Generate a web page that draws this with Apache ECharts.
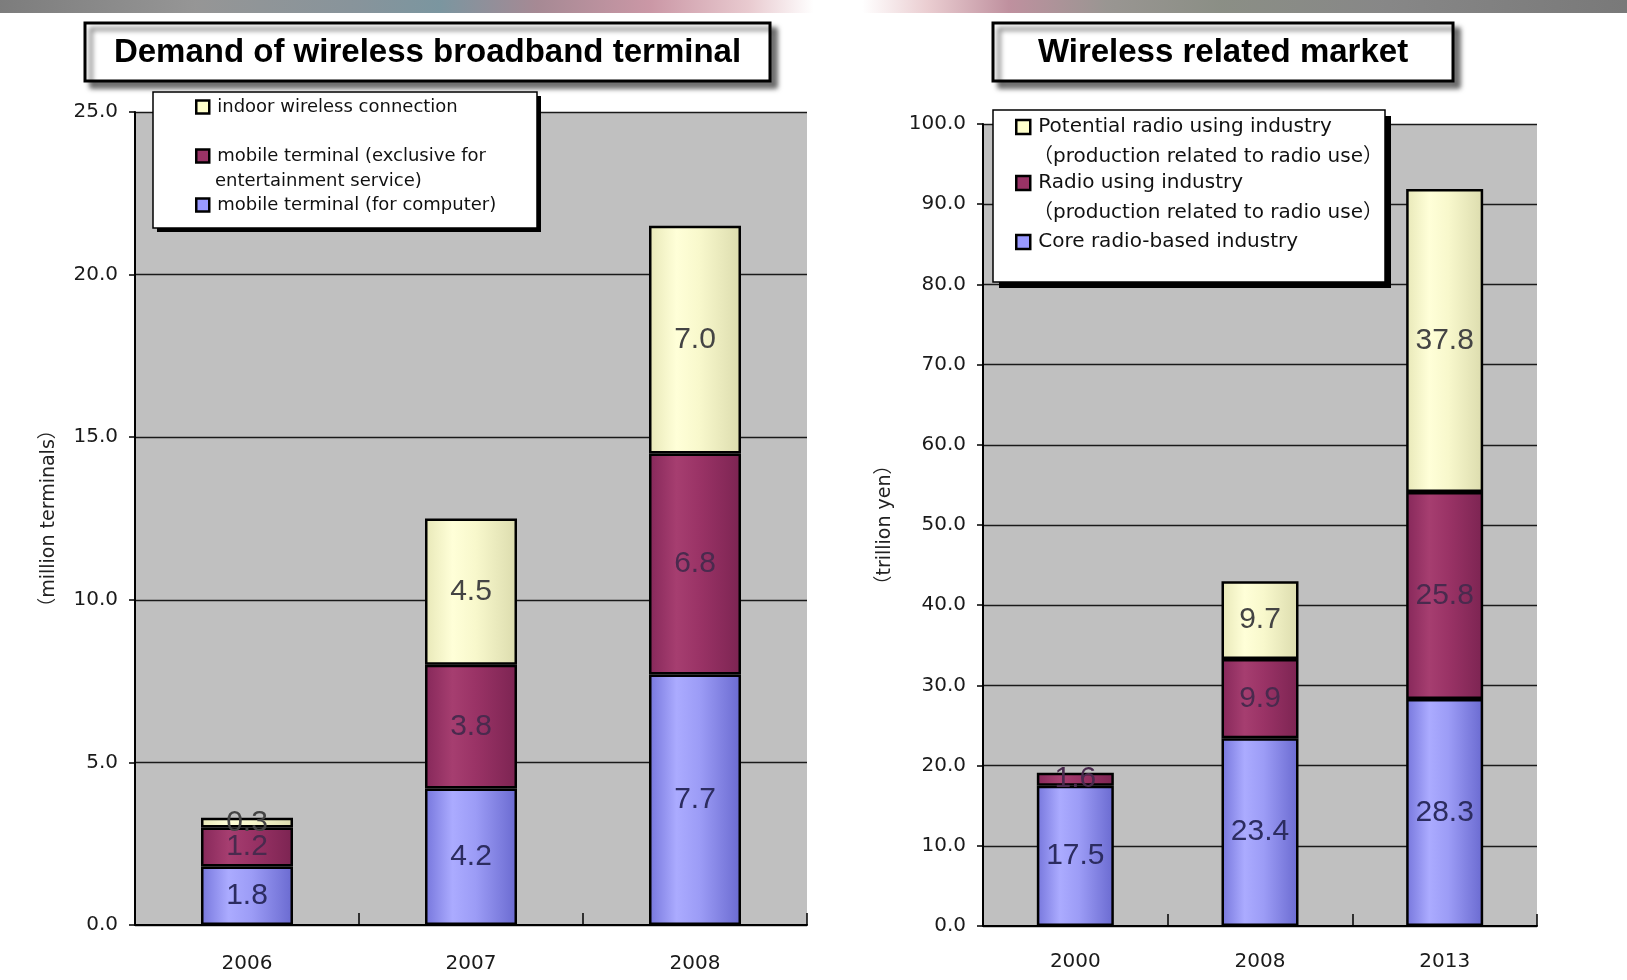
<!DOCTYPE html>
<html>
<head>
<meta charset="utf-8">
<script src="https://cdn.jsdelivr.net/npm/echarts@6/dist/echarts.min.js"></script>
<style>
  html, body { margin: 0; padding: 0; background: #ffffff; }
  #chart { width: 1627px; height: 980px; }
</style>
</head>
<body>
<div id="chart"></div>
<script>
// ---- Left panel: demand of wireless broadband terminals (million terminals)
const leftTitle = 'Demand of wireless broadband terminal';
const leftCategories = ['2006', '2007', '2008'];
const leftComputer = [1.8, 4.2, 7.7];
const leftEntertainment = [1.2, 3.8, 6.8];
const leftIndoor = [0.3, 4.5, 7.0];
const leftAxisName = '（million terminals）';
const leftLegendLines = [
  ['indoor wireless connection'],
  ['mobile terminal (exclusive for', 'entertainment service)'],
  ['mobile terminal (for computer)']
];

// ---- Right panel: wireless related market (trillion yen)
const rightTitle = 'Wireless related market';
const rightCategories = ['2000', '2008', '2013'];
const rightCore = [17.5, 23.4, 28.3];
const rightRadio = [1.6, 9.9, 25.8];
const rightPotential = [null, 9.7, 37.8];
const rightAxisName = '（trillion yen）';
const rightLegendLines = [
  ['Potential radio using industry', '（production related to radio use）'],
  ['Radio using industry', '（production related to radio use）'],
  ['Core radio-based industry']
];

const nameOf = lines => lines.join(' ');

// Fills: a soft horizontal shading gives each column a rounded look
const grad = stops => ({
  type: 'linear', x: 0, y: 0, x2: 1, y2: 0,
  colorStops: stops.map(s => ({ offset: s[0], color: s[1] }))
});
const blueFill = grad([[0, '#7676dc'], [0.3, '#ababff'], [0.55, '#9c9cf6'], [1, '#6a6ad0']]);
const maroonFill = grad([[0, '#86285a'], [0.3, '#a63e70'], [0.55, '#9a3366'], [1, '#7c2452']]);
const creamFill = grad([[0, '#e8e8b8'], [0.3, '#ffffd8'], [0.55, '#f8f8cc'], [1, '#dcdcae']]);
const flat = { blue: '#9999ff', maroon: '#993366', cream: '#ffffcc' };

const numFont = '"DejaVu Sans", sans-serif';
const labelFont = '"Liberation Sans", Arial, sans-serif';
const textFont = '"DejaVu Sans", "Noto Sans CJK JP", sans-serif';

function barSeries(name, data, fill, labelColor, gridIdx, width) {
  return {
    name: name,
    type: 'bar',
    stack: 'total' + gridIdx,
    xAxisIndex: gridIdx,
    yAxisIndex: gridIdx,
    barWidth: width,
    data: data,
    itemStyle: { color: fill, borderColor: '#000000', borderWidth: 2.5 },
    label: {
      show: true,
      position: 'inside',
      fontFamily: labelFont,
      fontSize: 30,
      color: labelColor,
      formatter: p => (p.value == null ? '' : Number(p.value).toFixed(1))
    },
    emphasis: { disabled: true }
  };
}

function xAxis(gridIdx, cats, margin) {
  return {
    type: 'category',
    gridIndex: gridIdx,
    data: cats,
    axisLine: { lineStyle: { color: '#000000', width: 2 } },
    axisTick: { show: true, inside: true, length: 12, lineStyle: { color: '#000000', width: 1.5 } },
    axisLabel: { fontFamily: numFont, fontSize: 20, color: '#1a1a1a', margin: margin },
    splitLine: { show: false }
  };
}

function yAxis(gridIdx, max, interval, name, nameGap) {
  return {
    type: 'value',
    gridIndex: gridIdx,
    min: 0, max: max, interval: interval,
    name: name,
    nameLocation: 'middle',
    nameRotate: 90,
    nameGap: nameGap,
    nameTextStyle: { fontFamily: textFont, fontSize: 19, color: '#222222' },
    axisLine: { show: true, lineStyle: { color: '#000000', width: 2 } },
    axisTick: { show: true, length: 6, lineStyle: { color: '#000000', width: 1.5 } },
    axisLabel: { fontFamily: numFont, fontSize: 20, color: '#1a1a1a', margin: 17,
      formatter: v => v.toFixed(1) },
    splitLine: { show: true, lineStyle: { color: '#1a1a1a', width: 1.3 } }
  };
}

// One legend component per entry so each row sits at its own height
function legendRow(lines, color, iconLeft, centerY, fontSize, icon) {
  return {
    data: [{ name: nameOf(lines), itemStyle: { color: color, borderColor: '#000000', borderWidth: 2.5 } }],
    left: iconLeft,
    top: centerY - 11,
    padding: 0,
    icon: 'rect',
    itemWidth: icon,
    itemHeight: icon,
    selectedMode: false,
    z: 20,
    formatter: () => lines[0],
    textStyle: { fontFamily: textFont, fontSize: fontSize, color: '#111111', lineHeight: 22, padding: [0, 0, 0, 3] }
  };
}

function contLine(text, x, y, fontSize) {
  return {
    type: 'text', z: 20, left: x, top: y - 11,
    style: { text: text, fontFamily: textFont, fontSize: fontSize, fill: '#111111', lineHeight: 22 }
  };
}

function titleBox(text, x, y, w, h) {
  return [
    { type: 'rect', z: 30, shape: { x: x, y: y, width: w, height: h },
      style: { fill: '#ffffff', stroke: '#000000', lineWidth: 3,
        shadowColor: 'rgba(0,0,0,0.55)', shadowBlur: 5, shadowOffsetX: 6, shadowOffsetY: 6 } },
    { type: 'text', z: 31, x: x + w / 2, y: y + h / 2 + 1,
      style: { text: text, fontFamily: '"Liberation Sans", Arial, sans-serif', fontWeight: 'bold',
        fontSize: 33, fill: '#000000', align: 'center', verticalAlign: 'middle' } }
  ];
}

function legendBox(x, y, w, h, off) {
  return [
    { type: 'rect', z: 15, shape: { x: x + off, y: y + off, width: w, height: h }, style: { fill: '#000000' } },
    { type: 'rect', z: 16, shape: { x: x, y: y, width: w, height: h },
      style: { fill: '#ffffff', stroke: '#000000', lineWidth: 1.5 } }
  ];
}

const topBand = {
  type: 'rect', z: 1, shape: { x: 0, y: 0, width: 1627, height: 13 },
  style: {
    fill: grad([[0, '#6e6e6e'], [0.12, '#8a8a8a'], [0.22, '#7a8890'], [0.27, '#6c8a95'],
      [0.33, '#9c7c88'], [0.4, '#c58c9c'], [0.46, '#e6c4ca'], [0.5, '#ffffff'], [0.53, '#ffffff'],
      [0.57, '#e8c8cc'], [0.62, '#b88494'], [0.68, '#8e8a86'], [0.75, '#7e8278'], [0.85, '#7a7a7a'], [1, '#6a6a6a']]),
    opacity: 0.9
  }
};

const chart = echarts.init(document.getElementById('chart'), null, { renderer: 'canvas' });

const leftNames = leftLegendLines.map(nameOf);
const rightNames = rightLegendLines.map(nameOf);

chart.setOption({
  animation: false,
  backgroundColor: '#ffffff',
  grid: [
    { left: 135, top: 112, width: 672, height: 813, show: true, backgroundColor: '#c0c0c0', borderWidth: 0 },
    { left: 983, top: 124, width: 554, height: 802, show: true, backgroundColor: '#c0c0c0', borderWidth: 0 }
  ],
  xAxis: [xAxis(0, leftCategories, 29), xAxis(1, rightCategories, 26)],
  yAxis: [yAxis(0, 25, 5, leftAxisName, 76), yAxis(1, 100, 10, rightAxisName, 88)],
  legend: [
    legendRow(leftLegendLines[0], flat.cream, 195, 107, 18, 13),
    legendRow(leftLegendLines[1], flat.maroon, 195, 156, 18, 13),
    legendRow(leftLegendLines[2], flat.blue, 195, 205, 18, 13),
    legendRow(rightLegendLines[0], flat.cream, 1015, 127, 20, 14),
    legendRow(rightLegendLines[1], flat.maroon, 1015, 183, 20, 14),
    legendRow(rightLegendLines[2], flat.blue, 1015, 242, 20, 14)
  ],
  graphic: [
    topBand,
    ...titleBox(leftTitle, 85, 23, 685, 58),
    ...titleBox(rightTitle, 993, 23, 460, 58),
    ...legendBox(153, 92, 384, 136, 4),
    ...legendBox(993, 110, 392, 172, 6),
    contLine(leftLegendLines[1][1], 215, 181, 18),
    contLine(rightLegendLines[0][1], 1033, 157, 20),
    contLine(rightLegendLines[1][1], 1033, 213, 20)
  ],
  series: [
    barSeries(leftNames[2], leftComputer, blueFill, '#2c2c60', 0, 92),
    barSeries(leftNames[1], leftEntertainment, maroonFill, '#4a2a4e', 0, 92),
    barSeries(leftNames[0], leftIndoor, creamFill, '#444444', 0, 92),
    barSeries(rightNames[2], rightCore, blueFill, '#2c2c60', 1, 77),
    barSeries(rightNames[1], rightRadio, maroonFill, '#4a2a4e', 1, 77),
    barSeries(rightNames[0], rightPotential, creamFill, '#444444', 1, 77)
  ]
});
</script>
</body>
</html>
